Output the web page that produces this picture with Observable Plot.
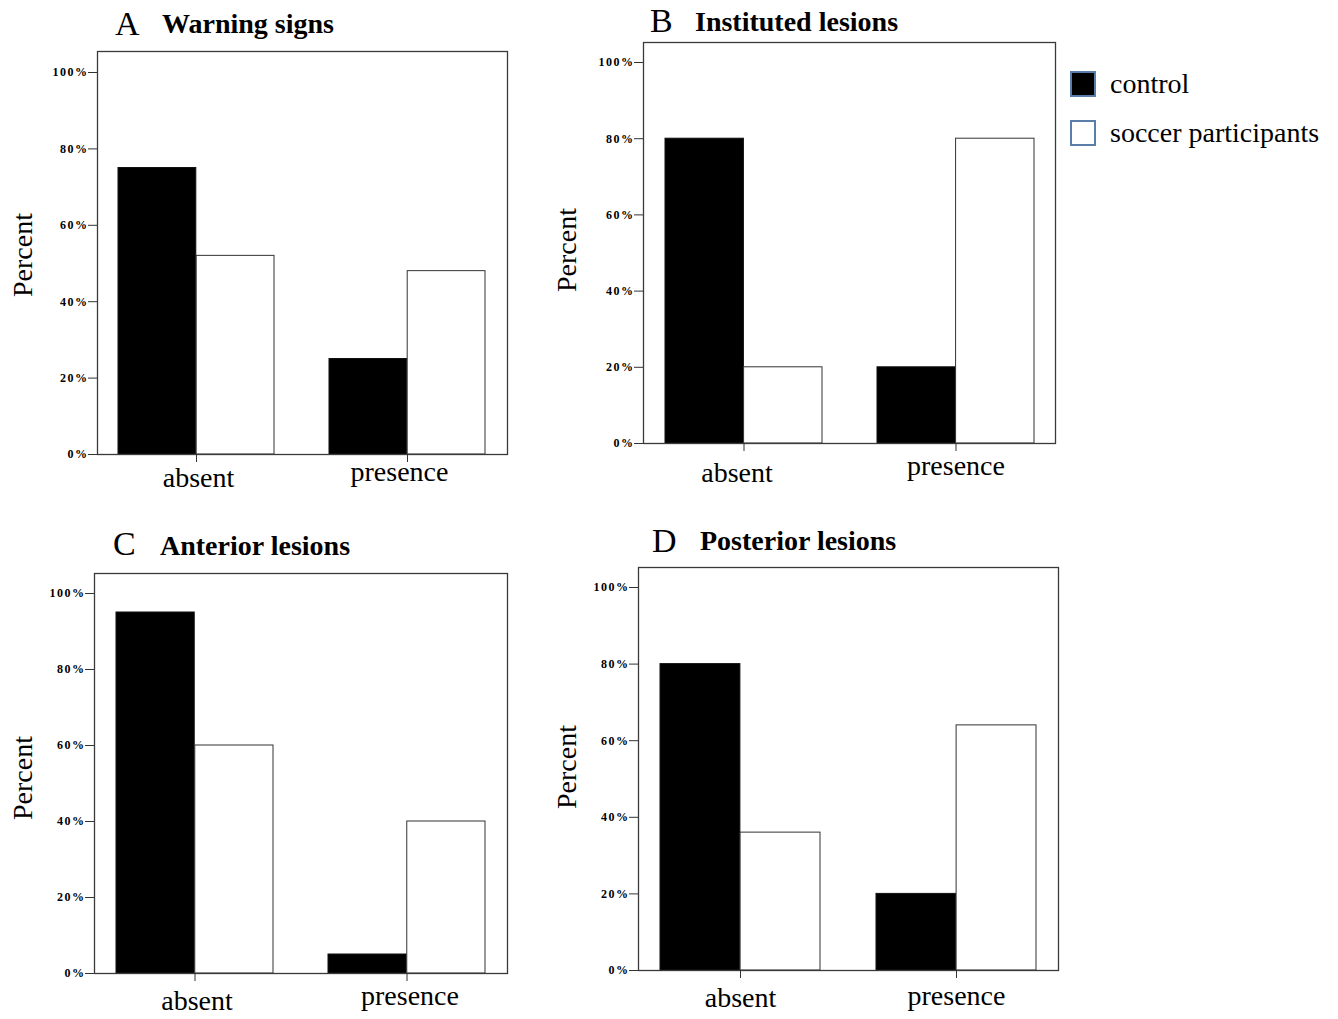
<!DOCTYPE html>
<html>
<head>
<meta charset="utf-8">
<script src="https://cdn.jsdelivr.net/npm/d3@7"></script>
<script src="https://cdn.jsdelivr.net/npm/@observablehq/plot@0.6"></script>
<style>
  html, body { margin: 0; padding: 0; background: #fff; }
  #root { position: relative; width: 1338px; height: 1019px; overflow: hidden; font-family: "Liberation Serif", "Times New Roman", serif; color: #000; }
  .abs { position: absolute; white-space: nowrap; line-height: 1; }
  .letter { font-size: 34px; font-weight: normal; }
  .title { font-size: 28px; font-weight: bold; }
  .ylab { position: absolute; width: 200px; height: 28px; line-height: 28px; text-align: center; font-size: 28px; transform: rotate(-90deg); }
  .legtext { font-size: 28px; }
  .swatch { position: absolute; width: 22px; height: 22px; border: 2px solid #5a7ea9; }
  svg [aria-label="y-axis tick label"] text { letter-spacing: 1.5px; }
  svg.plot { position: absolute; }
</style>
</head>
<body>
<div id="root"></div>
<script>
// ---- data ----
const categories = ["absent", "presence"];
const groups = ["control", "soccer participants"];
const panelLetters = ["A", "B", "C", "D"];
const panelTitles = ["Warning signs", "Instituted lesions", "Anterior lesions", "Posterior lesions"];
const warningControl = [75, 25];
const warningSoccer = [52, 48];
const institutedControl = [80, 20];
const institutedSoccer = [20, 80];
const anteriorControl = [95, 5];
const anteriorSoccer = [60, 40];
const posteriorControl = [80, 20];
const posteriorSoccer = [36, 64];
const yTicks = [0, 20, 40, 60, 80, 100];
const yAxisLabel = "Percent";

const controlSeries = [warningControl, institutedControl, anteriorControl, posteriorControl];
const soccerSeries = [warningSoccer, institutedSoccer, anteriorSoccer, posteriorSoccer];

// ---- layout (page pixel positions) ----
const layout = [
  {sx: 0,   sy: 45,  w: 530, h: 460, left: 97,  top: 51,  right: 507,  bottom: 454, y100: 72,
   pad: [13, 7],  dx: [2, -8], lx: 115, lt: 6.5, tx: 162, tt: 9.5, ycx: 22.5, ycy: 255},
  {sx: 545, sy: 36,  w: 525, h: 470, left: 643, top: 42,  right: 1055, bottom: 443, y100: 62,
   pad: [19, 12], dx: [-7, 0], lx: 650, lt: 3.5, tx: 695, tt: 7.5, ycx: 566.5, ycy: 250},
  {sx: 0,   sy: 567, w: 530, h: 452, left: 94,  top: 573, right: 507,  bottom: 973, y100: 593,
   pad: [17, 12], dx: [2, 3],  lx: 113, lt: 526.5, tx: 160, tt: 531.5, ycx: 22.5, ycy: 778},
  {sx: 545, sy: 561, w: 530, h: 458, left: 638, top: 567, right: 1058, bottom: 970, y100: 587,
   pad: [17, 15], dx: [0, 0],  lx: 652, lt: 523.5, tx: 700, tt: 526.5, ycx: 567, ycy: 767}
];

const FONT = "Liberation Serif";
const root = document.getElementById("root");

function addDiv(cls, text, x, y) {
  const d = document.createElement("div");
  d.className = cls;
  d.textContent = text;
  d.style.left = x + "px";
  d.style.top = y + "px";
  root.appendChild(d);
  return d;
}

layout.forEach((L, i) => {
  const rows = categories.map((c, j) => ({category: c, control: controlSeries[i][j], soccer: soccerSeries[i][j]}));
  const marginLeft = L.left - L.sx;
  const marginTop = L.top - L.sy;
  const marginRight = L.sx + L.w - L.right;
  const marginBottom = L.sy + L.h - L.bottom;
  const ymax = 100 * (L.bottom - L.top) / (L.bottom - L.y100);
  const xOpts = {type: "band", domain: categories, paddingInner: 0.26, paddingOuter: 0.1};
  const xScale = Plot.scale({x: {...xOpts, range: [marginLeft, L.w - marginRight]}});
  const half = xScale.bandwidth / 2;

  const svg = Plot.plot({
    width: L.w,
    height: L.h,
    marginLeft, marginTop, marginRight, marginBottom,
    style: {background: "transparent", overflow: "visible", fontFamily: FONT, color: "#000"},
    x: {...xOpts, axis: null},
    y: {domain: [0, ymax], axis: null},
    color: {domain: groups, range: ["#000000", "#ffffff"]},
    marks: [
      Plot.barY(rows, {x: "category", y: "control", fill: () => groups[0], stroke: "#111", strokeWidth: 1, insetRight: half}),
      Plot.barY(rows, {x: "category", y: "soccer", fill: () => groups[1], stroke: "#333", strokeWidth: 1, insetLeft: half}),
      Plot.frame({stroke: "#3a3a3a", strokeWidth: 1.3}),
      Plot.axisY(yTicks, {anchor: "left", tickSize: 9, tickPadding: 0, tickFormat: d => d + "%", fontSize: 12, fontWeight: "bold", fontFamily: FONT, stroke: "#333", label: null}),
      Plot.axisX(categories, {anchor: "bottom", tickSize: 8, tickFormat: () => "", stroke: "#333", label: null}),
      Plot.axisX([categories[0]], {anchor: "bottom", tickSize: 0, tickPadding: L.pad[0], dx: L.dx[0], fontSize: 28, fontFamily: FONT, label: null}),
      Plot.axisX([categories[1]], {anchor: "bottom", tickSize: 0, tickPadding: L.pad[1], dx: L.dx[1], fontSize: 28, fontFamily: FONT, label: null})
    ]
  });
  svg.style.left = L.sx + "px";
  svg.style.top = L.sy + "px";
  svg.classList.add("plot");
  root.appendChild(svg);

  addDiv("abs letter", panelLetters[i], L.lx, L.lt);
  addDiv("abs title", panelTitles[i], L.tx, L.tt);
  const yl = addDiv("ylab", yAxisLabel, L.ycx - 100, L.ycy - 14);
});

// legend
const legendY = [71, 120];
const legendTextY = [69.5, 118.5];
groups.forEach((g, k) => {
  const s = document.createElement("div");
  s.className = "swatch";
  s.style.left = "1070px";
  s.style.top = legendY[k] + "px";
  s.style.background = k === 0 ? "#000" : "#fff";
  root.appendChild(s);
  addDiv("abs legtext", g, 1110, legendTextY[k]);
});
</script>
</body>
</html>
